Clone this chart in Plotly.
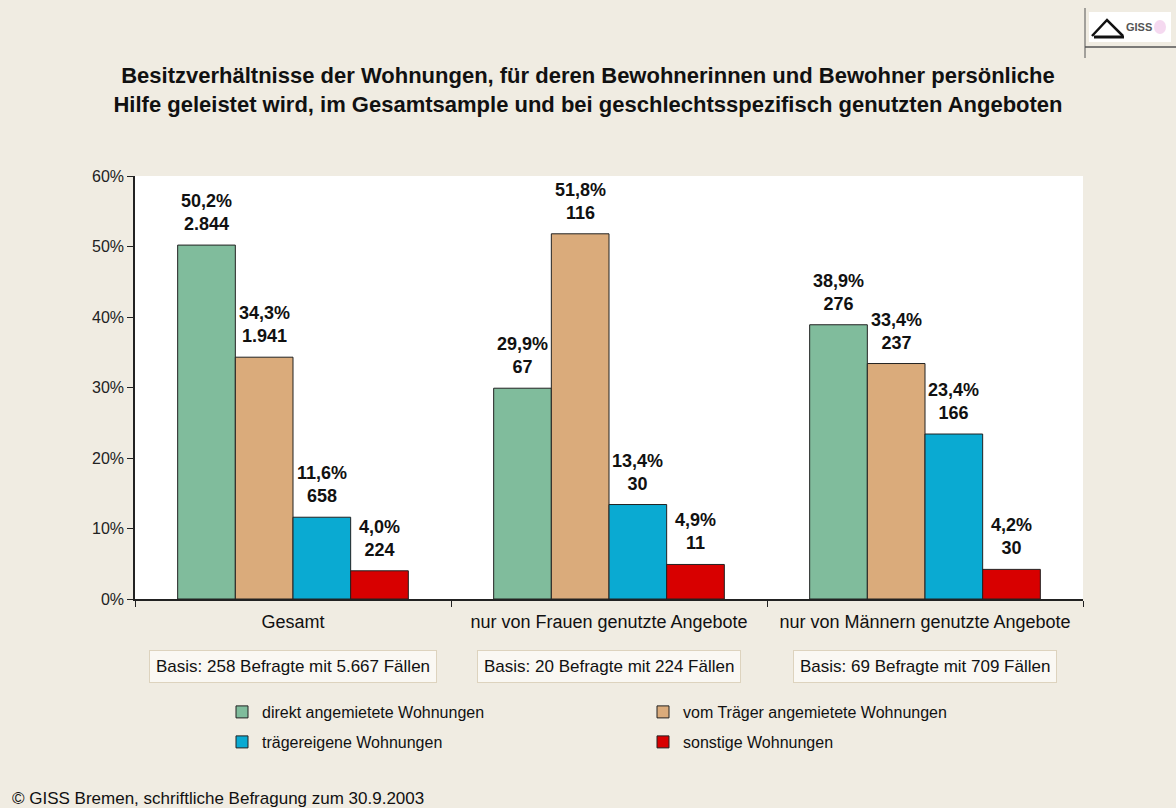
import plotly.graph_objects as go

# data
categories = ['Gesamt', 'nur von Frauen genutzte Angebote', 'nur von Männern genutzte Angebote']
basis = ['Basis: 258 Befragte mit 5.667 Fällen',
         'Basis: 20 Befragte mit 224 Fällen',
         'Basis: 69 Befragte mit 709 Fällen']

series_names = ['direkt angemietete Wohnungen', 'vom Träger angemietete Wohnungen',
                'trägereigene Wohnungen', 'sonstige Wohnungen']
pct_direkt = [50.2, 29.9, 38.9]
pct_traeger = [34.3, 51.8, 33.4]
pct_eigen = [11.6, 13.4, 23.4]
pct_sonst = [4.0, 4.9, 4.2]
n_direkt = [2844, 67, 276]
n_traeger = [1941, 116, 237]
n_eigen = [658, 30, 166]
n_sonst = [224, 11, 30]

y_ticks = [0, 10, 20, 30, 40, 50, 60]
y_ticktext = [f'{v}%' for v in y_ticks]

colors = ['#80BC9C', '#DAAB7B', '#0AAAD2', '#D80000']
legends = ['legend', 'legend', 'legend2', 'legend2']

BG = '#F0ECE2'
W, H = 1176, 808
L, R, T, B = 135, 93, 176, 209
PW, PH = W - L - R, H - T - B
BARGAP = 0.27


def px(x):
    return (x - L) / PW


def py(y):
    return (H - B - y) / PH


def fmt_pct(v):
    return f'{v:.1f}%'.replace('.', ',')


def fmt_n(v):
    return f'{v:,}'.replace(',', '.')


fig = go.Figure()

all_pct = [pct_direkt, pct_traeger, pct_eigen, pct_sonst]
all_n = [n_direkt, n_traeger, n_eigen, n_sonst]
n_series = len(all_pct)

# pixel width of one bar (for placing the value labels above each bar)
bar_px = PW / len(categories) * (1 - BARGAP) / n_series

for i, (name, pcts, ns, col, lg) in enumerate(zip(series_names, all_pct, all_n, colors, legends)):
    fig.add_trace(go.Bar(
        x=categories,
        y=pcts,
        name=name,
        marker=dict(color=col, line=dict(color='#222222', width=1)),
        legend=lg,
        hoverinfo='skip',
    ))
    for cat, p, n in zip(categories, pcts, ns):
        fig.add_annotation(
            x=cat, y=p, xref='x', yref='y',
            text=f'{fmt_pct(p)}<br>{fmt_n(n)}',
            showarrow=False, xanchor='center', yanchor='bottom',
            xshift=(i - (n_series - 1) / 2) * bar_px, yshift=9,
            font=dict(size=18, color='#111111', weight='bold'),
        )

# basis boxes under the category labels
for cat, txt in zip(categories, basis):
    fig.add_annotation(
        x=cat, xref='x', y=py(666), yref='paper',
        text=txt, showarrow=False,
        font=dict(size=17, color='#111111'),
        bgcolor='#FAF8F3', bordercolor='#DDD3BE', borderwidth=1, borderpad=6,
        xanchor='center', yanchor='middle',
    )

# footer
fig.add_annotation(
    x=px(10), xref='paper', y=py(798), yref='paper',
    text='© GISS Bremen, schriftliche Befragung zum 30.9.2003',
    showarrow=False, xanchor='left', yanchor='middle',
    font=dict(size=17, color='#111111'),
)

# logo top right
fig.add_shape(type='rect', xref='paper', yref='paper',
              x0=px(1089), x1=px(1171), y0=py(42), y1=py(12),
              line=dict(width=0), fillcolor='white')
fig.add_shape(type='path', xref='paper', yref='paper',
              path=f'M {px(1092)} {py(36)} L {px(1107)} {py(20)} L {px(1123)} {py(36)}',
              line=dict(color='#111111', width=2.5))
fig.add_shape(type='line', xref='paper', yref='paper',
              x0=px(1094), x1=px(1124), y0=py(37), y1=py(37),
              line=dict(color='#111111', width=3))
fig.add_shape(type='circle', xref='paper', yref='paper',
              x0=px(1154), x1=px(1166), y0=py(34), y1=py(20),
              line=dict(width=0), fillcolor='rgba(235,180,225,0.5)')
fig.add_annotation(
    x=px(1139), xref='paper', y=py(27), yref='paper',
    text='<b>GISS</b>', showarrow=False, xanchor='center', yanchor='middle',
    font=dict(size=11, color='#555555'),
)
fig.add_shape(type='line', xref='paper', yref='paper',
              x0=px(1085), x1=px(1176), y0=py(47), y1=py(47),
              line=dict(color='#555555', width=1.5))
fig.add_shape(type='line', xref='paper', yref='paper',
              x0=px(1085), x1=px(1085), y0=py(8), y1=py(58),
              line=dict(color='#555555', width=1))

legend_font = dict(size=16, color='#111111')

fig.update_layout(
    width=W, height=H,
    margin=dict(l=L, r=R, t=T, b=B),
    paper_bgcolor=BG, plot_bgcolor='white',
    font=dict(family='Liberation Sans, Arial, sans-serif', color='#111111'),
    title=dict(
        text='Besitzverhältnisse der Wohnungen, für deren Bewohnerinnen und Bewohner persönliche<br>'
             'Hilfe geleistet wird, im Gesamtsample und bei geschlechtsspezifisch genutzten Angeboten',
        x=0.5, xref='container', xanchor='center',
        y=1 - 83 / H, yref='container', yanchor='middle',
        font=dict(size=22, color='#111111', weight='bold'),
    ),
    barmode='group',
    bargap=BARGAP,
    bargroupgap=0,
    showlegend=True,
    legend=dict(
        orientation='h', x=px(222), xanchor='left', y=py(712), yanchor='middle',
        entrywidth=376, entrywidthmode='pixels',
        font=legend_font, bgcolor='rgba(0,0,0,0)',
    ),
    legend2=dict(
        orientation='h', x=px(222), xanchor='left', y=py(742), yanchor='middle',
        entrywidth=376, entrywidthmode='pixels',
        font=legend_font, bgcolor='rgba(0,0,0,0)',
    ),
    xaxis=dict(
        showline=True, linecolor='#222222', linewidth=1.5,
        ticks='outside', tickson='boundaries', ticklen=6, tickcolor='#222222',
        tickfont=dict(size=18, color='#111111'),
        ticklabelstandoff=6,
        showgrid=False,
    ),
    yaxis=dict(
        range=[0, 60], tickvals=y_ticks, ticktext=y_ticktext,
        showline=True, linecolor='#222222', linewidth=1.5,
        ticks='outside', ticklen=6, tickcolor='#222222',
        tickfont=dict(size=16, color='#222222'),
        showgrid=False, zeroline=False,
    ),
)

fig.write_html('out.html', config={'displayModeBar': False},
               post_script="document.body.style.margin='0';")
